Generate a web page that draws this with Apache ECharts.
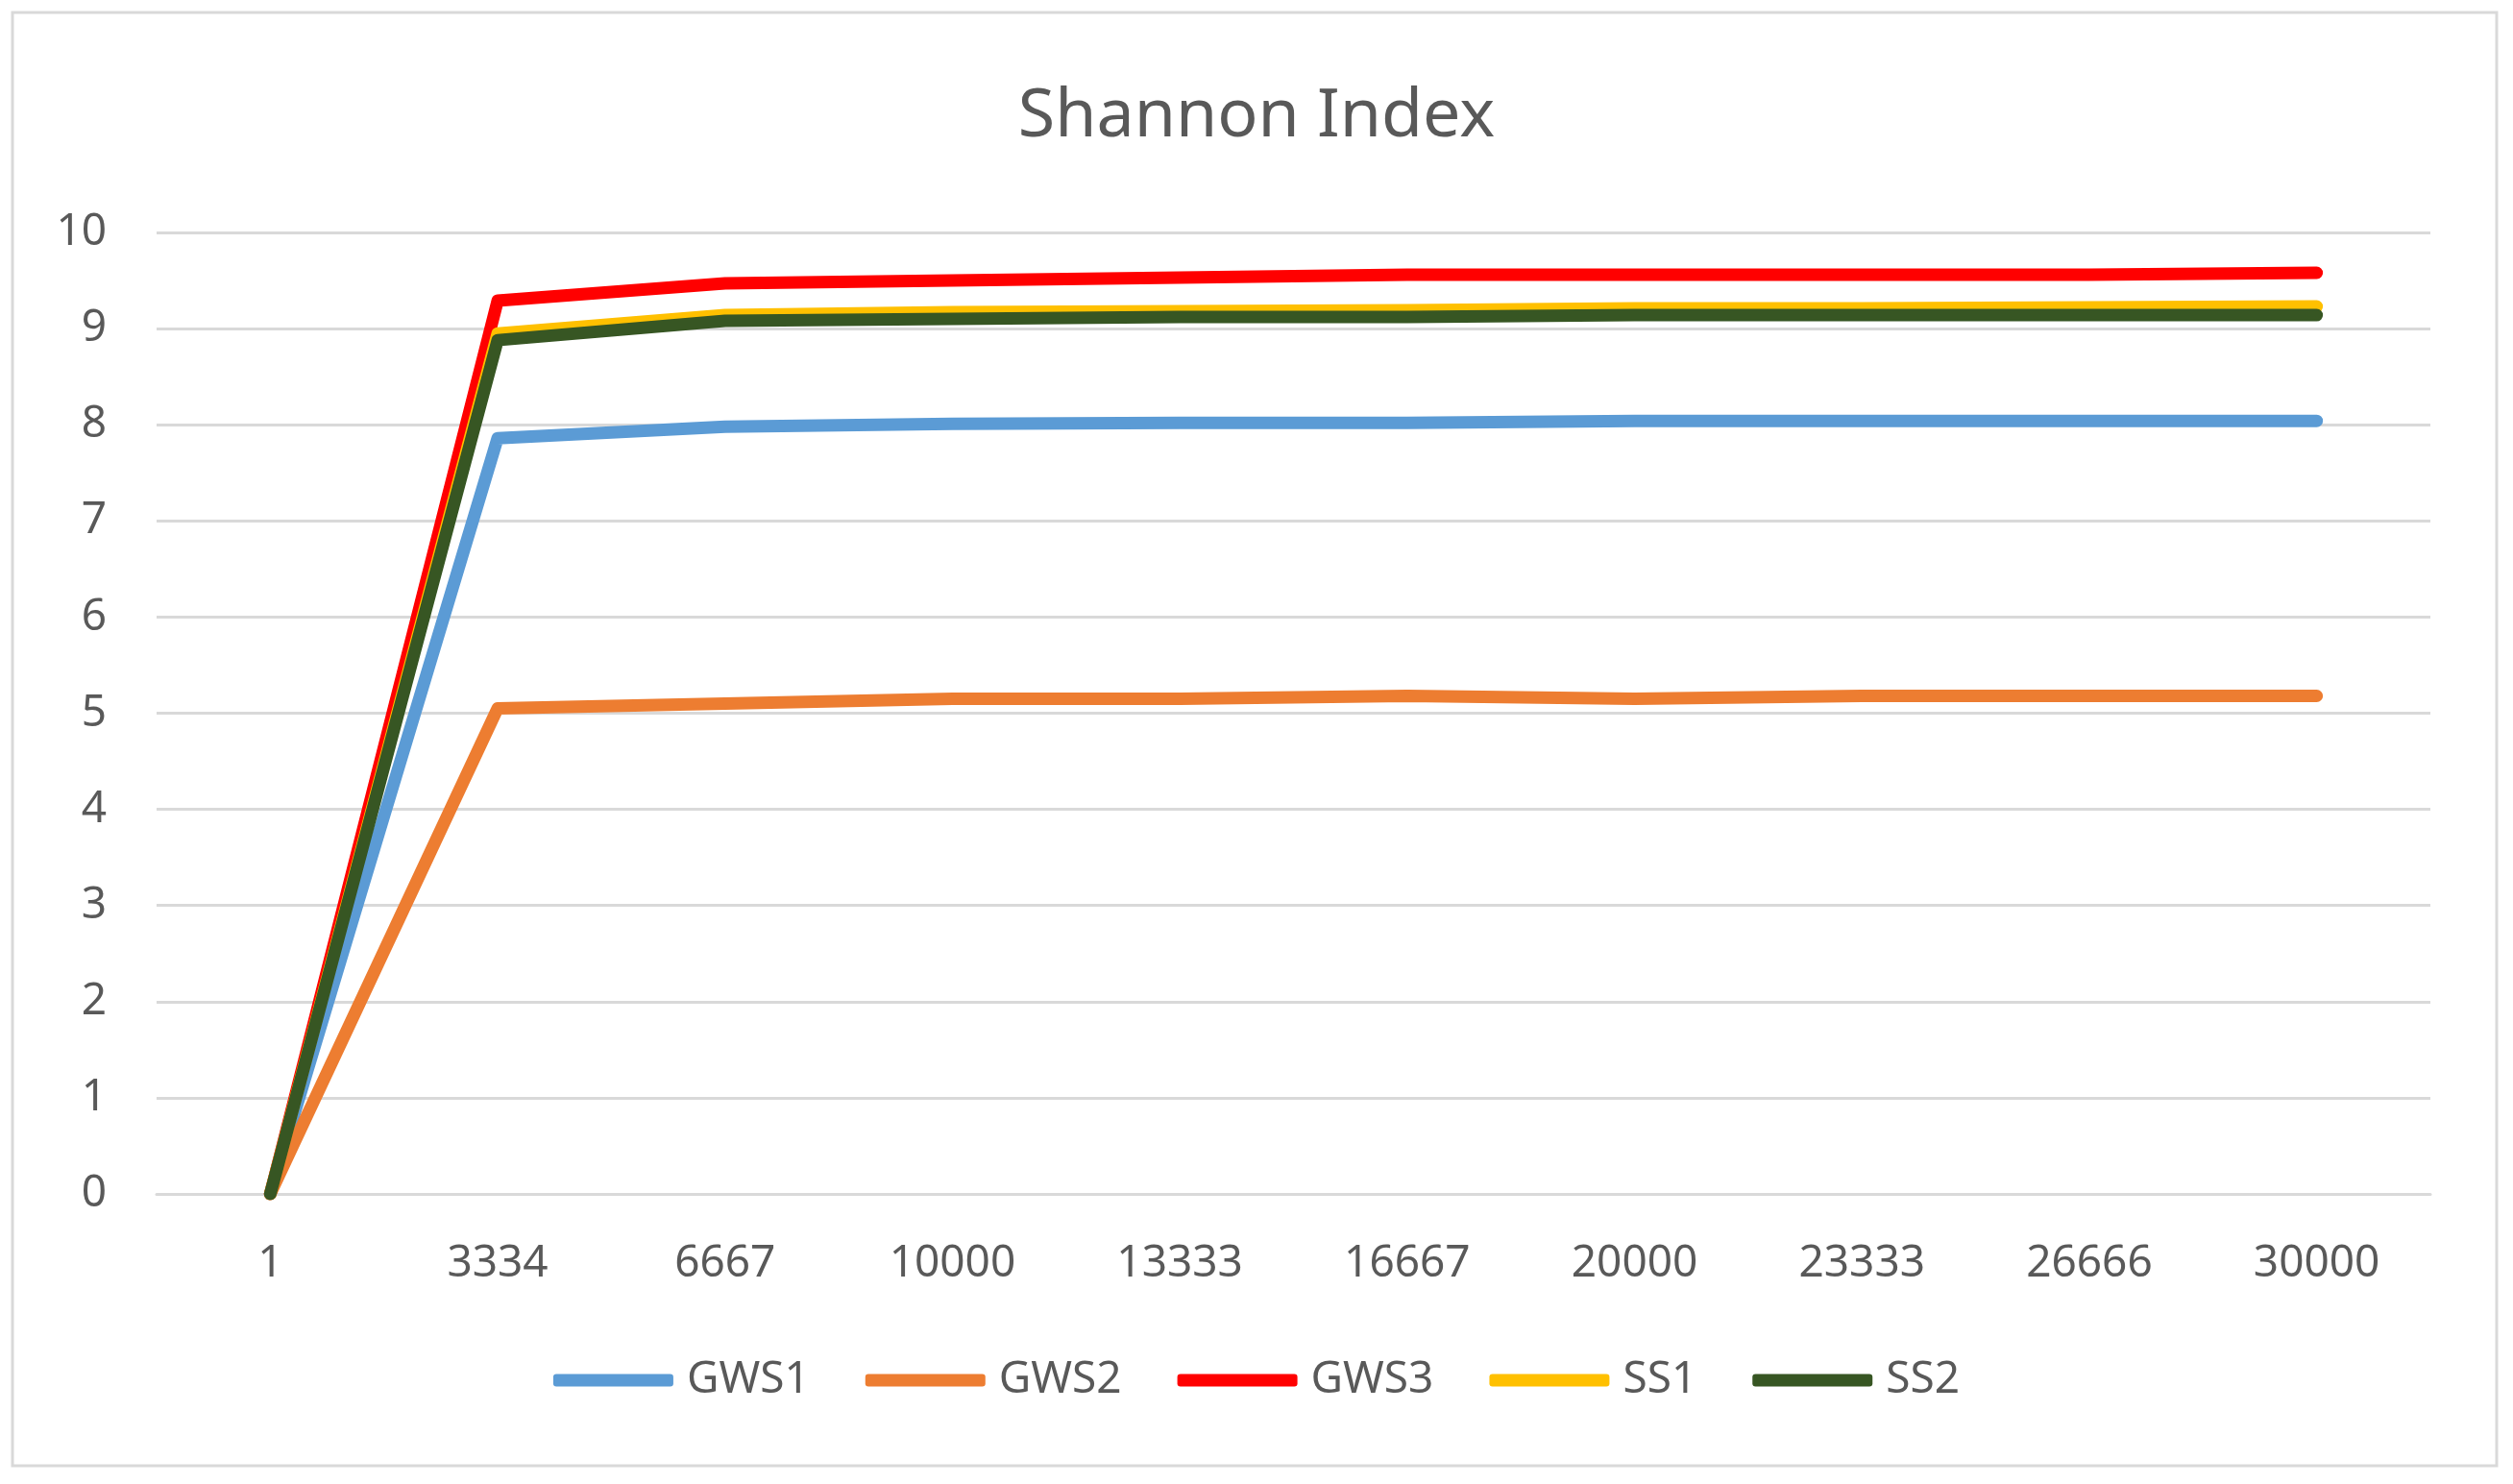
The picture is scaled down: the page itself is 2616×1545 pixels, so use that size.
<!DOCTYPE html>
<html>
<head>
<meta charset="utf-8">
<script src="https://cdn.jsdelivr.net/npm/echarts@6/dist/echarts.min.js"></script>
<style>
html,body{margin:0;padding:0;background:#fff;}
#chart{width:2616px;height:1545px;}
</style>
</head>
<body>
<div id="chart"></div>
<script>
const categories = ['1','3334','6667','10000','13333','16667','20000','23333','26666','30000'];
const GWS1 = [0, 7.86, 7.98, 8.01, 8.02, 8.02, 8.04, 8.04, 8.04, 8.04];
const GWS2 = [0, 5.05, 5.10, 5.15, 5.15, 5.18, 5.15, 5.18, 5.18, 5.18];
const GWS3 = [0, 9.29, 9.47, 9.50, 9.53, 9.56, 9.56, 9.56, 9.56, 9.58];
const SS1  = [0, 8.95, 9.14, 9.17, 9.18, 9.19, 9.21, 9.21, 9.22, 9.23];
const SS2  = [0, 8.88, 9.08, 9.10, 9.12, 9.12, 9.14, 9.14, 9.14, 9.14];
const yTicks = {min: 0, max: 10, interval: 1};

const seriesDefs = [
  {name: 'GWS1', data: GWS1, color: '#5B9BD5'},
  {name: 'GWS2', data: GWS2, color: '#ED7D31'},
  {name: 'GWS3', data: GWS3, color: '#FF0000'},
  {name: 'SS1',  data: SS1,  color: '#FFC000'},
  {name: 'SS2',  data: SS2,  color: '#375623'}
];

const FONT = 'Noto Sans';
const chart = echarts.init(document.getElementById('chart'), null, {renderer: 'canvas'});
chart.setOption({
  backgroundColor: '#ffffff',
  animation: false,
  textStyle: {fontFamily: FONT},
  graphic: [{
    type: 'rect',
    shape: {x: 13, y: 13, width: 2586, height: 1513},
    style: {fill: 'none', stroke: '#d9d9d9', lineWidth: 3},
    silent: true
  }],
  title: {
    text: 'Shannon Index',
    left: 'center',
    top: 82,
    textStyle: {fontFamily: FONT, fontSize: 70, fontWeight: 'normal', color: '#595959'}
  },
  legend: {
    bottom: 80,
    left: 'center',
    icon: 'roundRect',
    itemWidth: 125,
    itemHeight: 13,
    itemGap: 58,
    itemStyle: {borderRadius: 6},
    textStyle: {fontFamily: FONT, fontSize: 46, color: '#595959', padding: [0, 0, 0, 9]},
    data: seriesDefs.map(s => s.name)
  },
  grid: {left: 163, right: 86, top: 242, bottom: 302, containLabel: false},
  xAxis: {
    type: 'category',
    data: categories,
    boundaryGap: true,
    axisLine: {show: true, lineStyle: {color: '#d9d9d9', width: 3}},
    axisTick: {show: false},
    axisLabel: {fontFamily: FONT, fontSize: 46, color: '#595959', margin: 50}
  },
  yAxis: {
    type: 'value',
    min: yTicks.min,
    max: yTicks.max,
    interval: yTicks.interval,
    axisLine: {show: false},
    axisTick: {show: false},
    axisLabel: {fontFamily: FONT, fontSize: 46, color: '#595959', margin: 52},
    splitLine: {lineStyle: {color: '#d9d9d9', width: 3}}
  },
  series: seriesDefs.map(s => ({
    name: s.name,
    type: 'line',
    data: s.data,
    symbol: 'none',
    showSymbol: false,
    color: s.color,
    itemStyle: {color: s.color},
    lineStyle: {color: s.color, width: 13, cap: 'round', join: 'round'}
  }))
});
</script>
</body>
</html>
